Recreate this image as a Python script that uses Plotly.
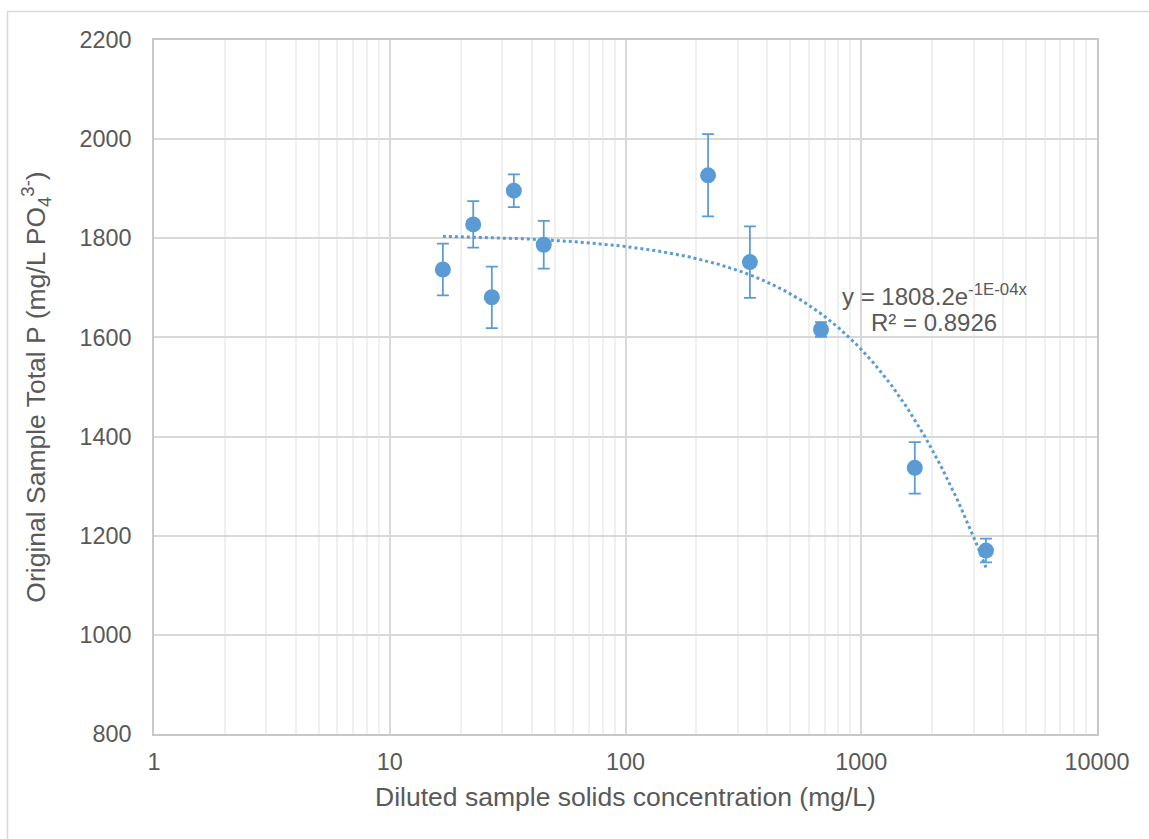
import numpy as np
import plotly.graph_objects as go

# Data
solids_mg_L = [16.8, 22.6, 27.1, 33.6, 45.0, 224, 337, 675, 1687, 3381]
total_p = [1737, 1828, 1681, 1896, 1787, 1927, 1752, 1616, 1337, 1170]
err_p = [52, 47, 62, 33, 48, 83, 72, 15, 52, 24]

fit_a = 1808.2
fit_k = 1.375e-4
eq_text = "y = 1808.2e<sup>-1E-04x</sup>"
r2_text = "R² = 0.8926"

x_ticks = [1, 10, 100, 1000, 10000]
y_ticks = [800, 1000, 1200, 1400, 1600, 1800, 2000, 2200]

blue = "#5B9BD5"
txt = "#595959"
font_family = "Liberation Sans, Arial, sans-serif"

trend_x = np.logspace(np.log10(min(solids_mg_L)), np.log10(max(solids_mg_L)), 300)
trend_y = fit_a * np.exp(-fit_k * trend_x)

fig = go.Figure()
fig.add_trace(go.Scatter(
    x=trend_x, y=trend_y, mode="lines",
    line=dict(color=blue, width=3, dash="dot"),
    hoverinfo="skip", showlegend=False,
))
fig.add_trace(go.Scatter(
    x=solids_mg_L, y=total_p, mode="markers",
    marker=dict(color=blue, size=16),
    error_y=dict(type="data", array=err_p, color=blue, thickness=1.75, width=6),
    showlegend=False,
))

W, H = 1149, 839
ml, mr, mt, mb = 154, 52, 40, 105
pw, ph = W - ml - mr, H - mt - mb

def px_to_paper_x(px):
    return (px - ml) / pw

def px_to_paper_y(py):
    return (H - mb - py) / ph

fig.update_layout(
    width=W, height=H,
    margin=dict(l=ml, r=mr, t=mt, b=mb),
    paper_bgcolor="white", plot_bgcolor="white",
    font=dict(family=font_family, color=txt, size=23),
    xaxis=dict(
        type="log", range=[0, 4],
        tickvals=x_ticks, ticktext=[str(v) for v in x_ticks],
        showgrid=True, gridcolor="#d9d9d9", gridwidth=1.5,
        minor=dict(dtick="D1", showgrid=True, gridcolor="#f0f0f0", gridwidth=1.5, ticks=""),
        showline=True, linecolor="#c8c8c8", linewidth=1.5, mirror=True,
        ticks="", zeroline=False,
        tickfont=dict(size=23.4, color=txt),
        ticklabelstandoff=6,
        title=dict(text="Diluted sample solids concentration (mg/L)",
                   font=dict(size=26.5, color=txt), standoff=14),
    ),
    yaxis=dict(
        range=[800, 2200],
        tickvals=y_ticks, ticktext=[str(v) for v in y_ticks],
        showgrid=True, gridcolor="#d9d9d9", gridwidth=1.5,
        showline=True, linecolor="#c8c8c8", linewidth=1.5, mirror=True,
        ticks="", zeroline=False,
        tickfont=dict(size=23.4, color=txt),
        ticklabelstandoff=16,
        title=dict(text="Original Sample Total P (mg/L PO<sub>4</sub><sup>3-</sup>)",
                   font=dict(size=26.5, color=txt), standoff=26),
    ),
    annotations=[
        dict(text=eq_text, x=px_to_paper_x(934), y=px_to_paper_y(295),
             xref="paper", yref="paper", showarrow=False,
             font=dict(size=24, color=txt), xanchor="center", yanchor="middle"),
        dict(text=r2_text, x=px_to_paper_x(934), y=px_to_paper_y(322),
             xref="paper", yref="paper", showarrow=False,
             font=dict(size=24, color=txt), xanchor="center", yanchor="middle"),
    ],
    shapes=[
        dict(type="rect", xref="paper", yref="paper",
             x0=px_to_paper_x(7.5), x1=px_to_paper_x(1170),
             y0=px_to_paper_y(860), y1=px_to_paper_y(11.5),
             line=dict(color="#d9d9d9", width=1.5), fillcolor="rgba(0,0,0,0)",
             layer="below"),
    ],
)

fig.write_html("out.html")
